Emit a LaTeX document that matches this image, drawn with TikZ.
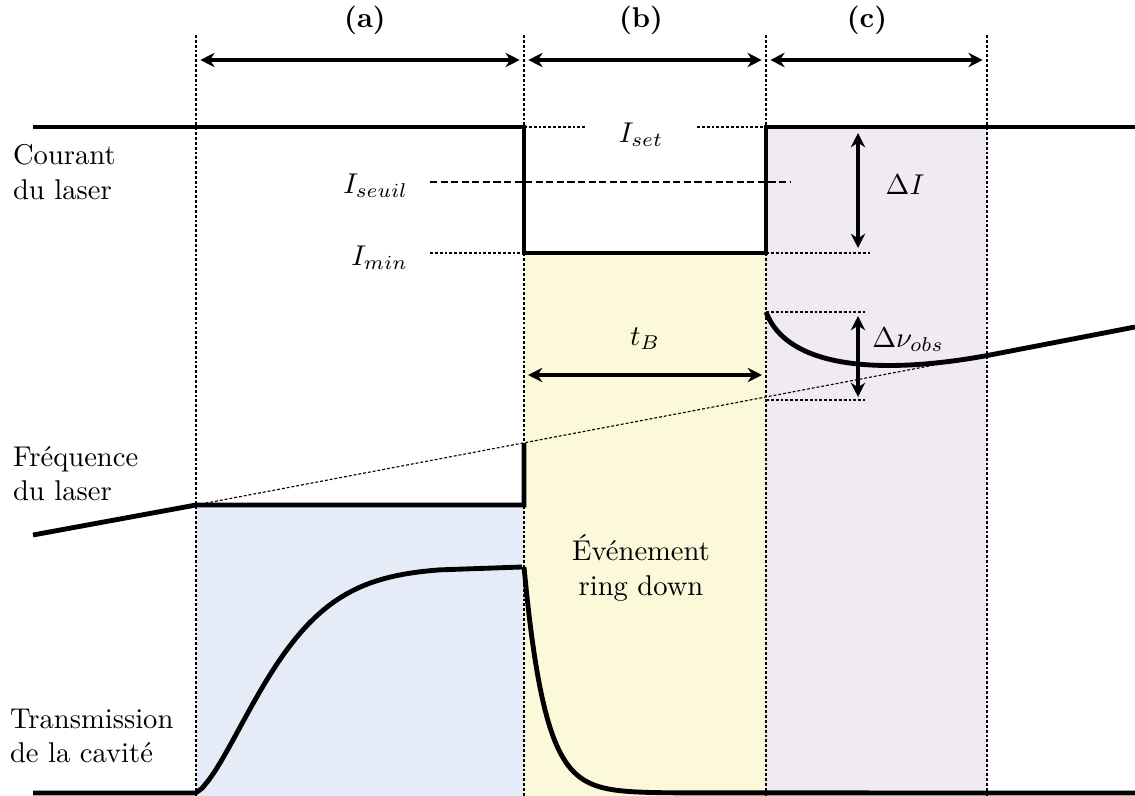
\documentclass[tikz,border=0pt]{standalone}
\usetikzlibrary{arrows.meta}
\definecolor{bleuA}{RGB}{230,236,247}
\definecolor{jauneB}{RGB}{252,248,218}
\definecolor{mauveC}{RGB}{240,235,242}
\tikzset{
  signal/.style={line width=1.7pt,line join=miter},
  guide/.style={line width=0.4pt,dash pattern=on 1pt off 0.7pt},
  seuil/.style={line width=0.5pt,dash pattern=on 2.5pt off 1.2pt},
  span/.style={{Stealth[length=5pt,width=5pt]}-{Stealth[length=5pt,width=5pt]},line width=1.2pt},
  lbl/.style={align=left,anchor=west},
}
\begin{document}
\begin{tikzpicture}[x=0.0123cm,y=-0.0123cm]
  \useasboundingbox (0,0) rectangle (1135,796);
  % zones
  \fill[bleuA] (196,505) rectangle (524,796);
  \fill[jauneB] (524,253) rectangle (766,796);
  \fill[mauveC] (766,127) rectangle (987,796);
  % temps
  \foreach \x/\n in {196/ta,524/tb,766/tc,987/td}{
    \coordinate (\n) at (\x,60);
    \draw[guide] (\x,35) -- (\x,796);
  }
  \draw[span,shorten <=1.5pt,shorten >=1.5pt] (ta) -- (tb);
  \draw[span,shorten <=1.5pt,shorten >=1.5pt] (tb) -- (tc);
  \draw[span,shorten <=1.5pt,shorten >=1.5pt] (tc) -- (td);
  \node (za) at (365,20) {\textbf{(a)}};
  \node (zb) at (641,20) {\textbf{(b)}};
  \node (zc) at (867,20) {\textbf{(c)}};
  % courant
  \node[lbl] (courant) at (3,172) {Courant\\du laser};
  \draw[signal] (33,127) -- (524,127) -- (524,253) -- (766,253) -- (766,127) -- (1135,127);
  \node (iset) at (641,135) {$I_{set}$};
  \draw[guide] (524,127) -- (585,127) (697,127) -- (766,127);
  \node[anchor=east] (iseuil) at (418,186) {$I_{seuil}$};
  \draw[seuil] (430,182) -- (790,182);
  \node[anchor=east] (imin) at (418,258) {$I_{min}$};
  \draw[guide] (430,253) -- (524,253) (766,253) -- (870,253);
  \coordinate (dIa) at (858,133);
  \coordinate (dIb) at (858,248);
  \draw[span] (dIa) -- (dIb);
  \node (dI) at (905,185) {$\Delta I$};
  % frequence
  \node[lbl] (freq) at (3,474) {Fréquence\\du laser};
  \draw[guide] (196,505) -- (1135,327);
  \draw[signal] (33,535) -- (196,505) -- (524,505) -- (524,443);
  \draw[signal] (766,312) .. controls (790,375) and (900,372) .. (990,355) -- (1135,327);
  \draw[guide] (766,312) -- (865,312) (766,400) -- (865,400);
  \coordinate (dna) at (858,316);
  \coordinate (dnb) at (858,397);
  \draw[span] (dna) -- (dnb);
  \node (dnu) at (908,340) {$\Delta\nu_{obs}$};
  \coordinate (tba) at (528,375);
  \coordinate (tbb) at (762,375);
  \draw[span] (tba) -- node[above=5pt] (tB) {$t_B$} (tbb);
  % transmission
  \node[lbl] (trans) at (0,736) {Transmission\\de la cavité};
  \node[align=center] (evt) at (641,568) {Événement\\ring down};
  \draw[signal] (33,793) -- (196,793)
    plot[domain=196:440,samples=40] (\x,{793-226*(1-exp(-((\x-195)/91.6)^1.5))})
    -- (522,567)
    plot[domain=524:680,samples=60] (\x,{793-226*exp(-(\x-524)/21)})
    -- (1135,793);
\end{tikzpicture}
\end{document}
